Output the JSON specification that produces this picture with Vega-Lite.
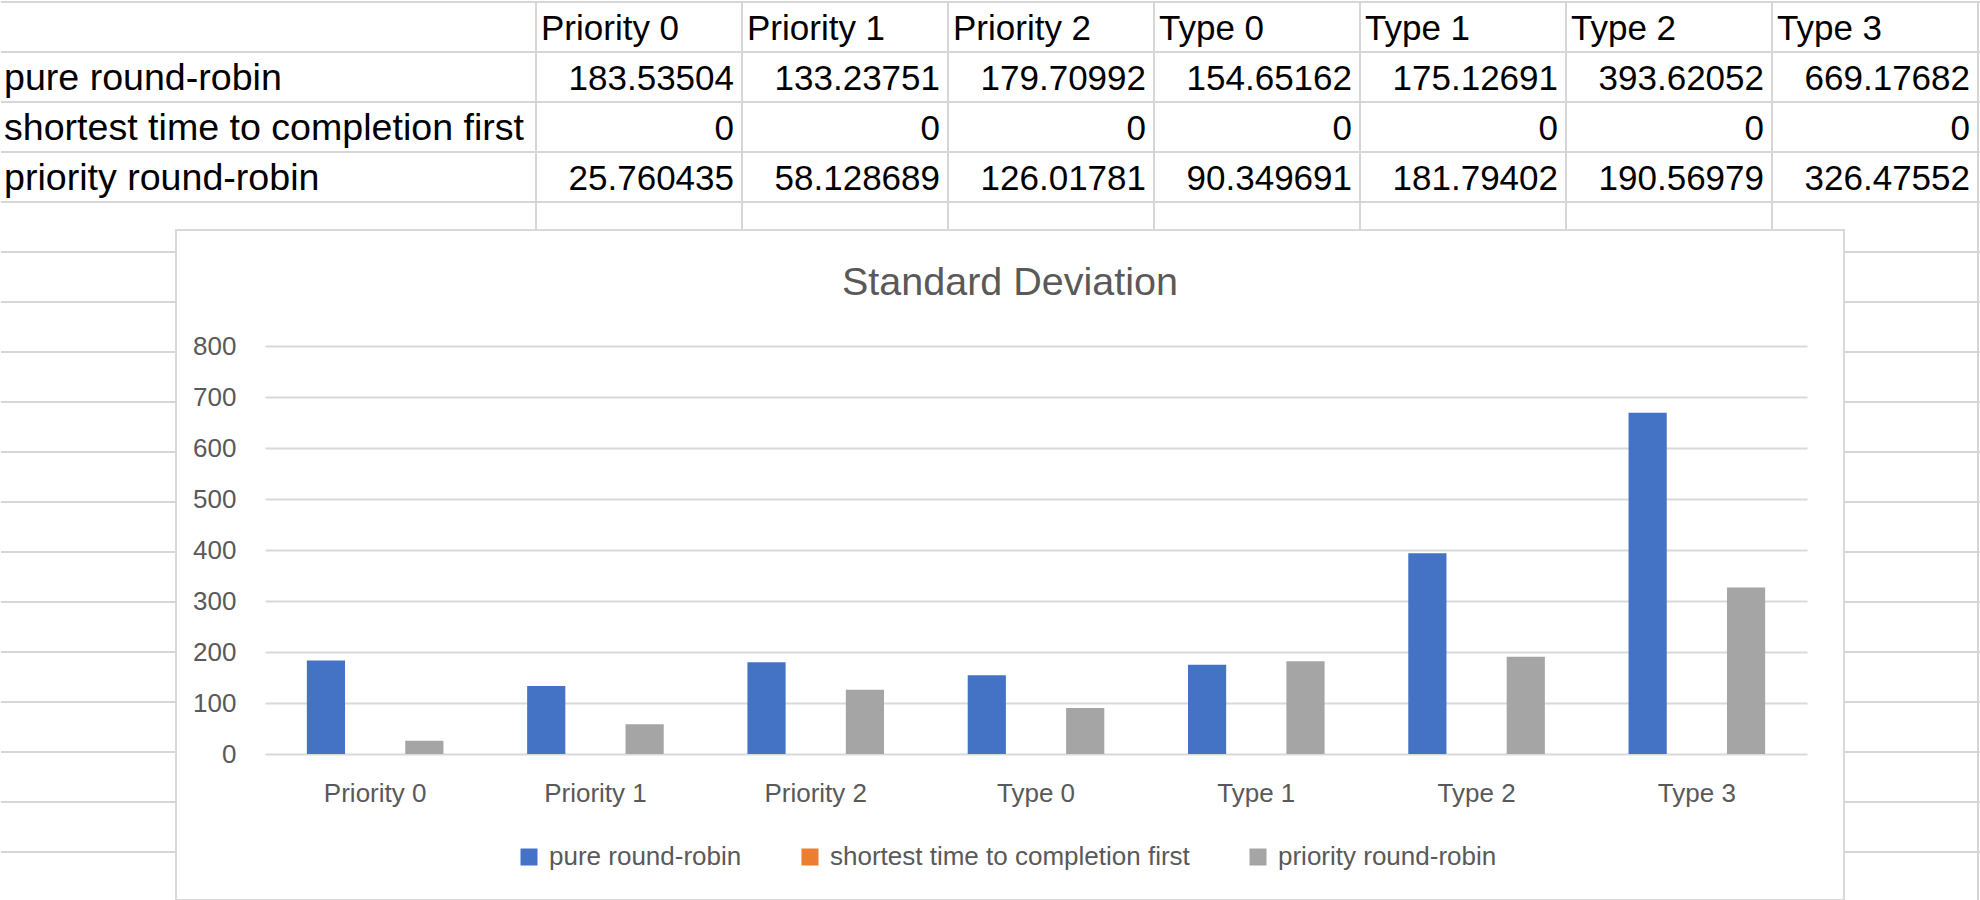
{
  "$schema": "https://vega.github.io/schema/vega-lite/v6.json",
  "padding": 0,
  "background": "white",
  "bounds": "flush",
  "spacing": 0,
  "config": {
    "view": {"stroke": null},
    "font": "Liberation Sans"
  },
  "datasets": {
    "stats": [
      {"series": "pure round-robin", "category": "Priority 0", "value": 183.53504},
      {"series": "pure round-robin", "category": "Priority 1", "value": 133.23751},
      {"series": "pure round-robin", "category": "Priority 2", "value": 179.70992},
      {"series": "pure round-robin", "category": "Type 0", "value": 154.65162},
      {"series": "pure round-robin", "category": "Type 1", "value": 175.12691},
      {"series": "pure round-robin", "category": "Type 2", "value": 393.62052},
      {"series": "pure round-robin", "category": "Type 3", "value": 669.17682},
      {"series": "shortest time to completion first", "category": "Priority 0", "value": 0},
      {"series": "shortest time to completion first", "category": "Priority 1", "value": 0},
      {"series": "shortest time to completion first", "category": "Priority 2", "value": 0},
      {"series": "shortest time to completion first", "category": "Type 0", "value": 0},
      {"series": "shortest time to completion first", "category": "Type 1", "value": 0},
      {"series": "shortest time to completion first", "category": "Type 2", "value": 0},
      {"series": "shortest time to completion first", "category": "Type 3", "value": 0},
      {"series": "priority round-robin", "category": "Priority 0", "value": 25.760435},
      {"series": "priority round-robin", "category": "Priority 1", "value": 58.128689},
      {"series": "priority round-robin", "category": "Priority 2", "value": 126.01781},
      {"series": "priority round-robin", "category": "Type 0", "value": 90.349691},
      {"series": "priority round-robin", "category": "Type 1", "value": 181.79402},
      {"series": "priority round-robin", "category": "Type 2", "value": 190.56979},
      {"series": "priority round-robin", "category": "Type 3", "value": 326.47552}
    ],
    "cats": [
      {"category": "Priority 0"}, {"category": "Priority 1"}, {"category": "Priority 2"},
      {"category": "Type 0"}, {"category": "Type 1"}, {"category": "Type 2"}, {"category": "Type 3"}
    ],
    "seriesNames": [
      {"series": "pure round-robin"},
      {"series": "shortest time to completion first"},
      {"series": "priority round-robin"}
    ],
    "topRows": [
      {"row": "header"},
      {"row": "pure round-robin"},
      {"row": "shortest time to completion first"},
      {"row": "priority round-robin"},
      {"row": "row5"}
    ],
    "lowerRows": [
      {"row": 6}, {"row": 7}, {"row": 8}, {"row": 9}, {"row": 10}, {"row": 11}, {"row": 12},
      {"row": 13}, {"row": 14}, {"row": 15}, {"row": 16}, {"row": 17}, {"row": 18}
    ]
  },
  "vconcat": [
    {
      "width": 1980,
      "height": 229,
      "resolve": {"scale": {"x": "independent"}},
      "layer": [
        {
          "data": {"name": "topRows"},
          "mark": {"type": "rule", "color": "#d6d6d6", "strokeWidth": 2},
          "encoding": {
            "y": {"field": "row", "type": "nominal", "bandPosition": 0,
              "scale": {"type": "band", "domain": ["header", "pure round-robin", "shortest time to completion first", "priority round-robin", "row5"], "range": [1, 251], "paddingInner": 0, "paddingOuter": 0},
              "axis": null}
          }
        },
        {
          "data": {"name": "cats"},
          "mark": {"type": "rule", "color": "#d6d6d6", "strokeWidth": 2},
          "encoding": {
            "x": {"field": "category", "type": "nominal", "bandPosition": 0,
              "scale": {"type": "band", "domain": ["Priority 0", "Priority 1", "Priority 2", "Type 0", "Type 1", "Type 2", "Type 3"], "range": [535, 1977], "paddingInner": 0, "paddingOuter": 0},
              "axis": null}
          }
        },
        {
          "data": {"name": "cats"},
          "mark": {"type": "rule", "color": "#d6d6d6", "strokeWidth": 2},
          "encoding": {
            "x": {"field": "category", "type": "nominal", "bandPosition": 1,
              "scale": {"type": "band", "domain": ["Priority 0", "Priority 1", "Priority 2", "Type 0", "Type 1", "Type 2", "Type 3"], "range": [535, 1977], "paddingInner": 0, "paddingOuter": 0},
              "axis": null}
          }
        },
        {
          "data": {"name": "cats"},
          "mark": {"type": "text", "align": "left", "baseline": "alphabetic", "dx": 5, "dy": 38, "fontSize": 35, "color": "#000000"},
          "encoding": {
            "x": {"field": "category", "type": "nominal", "bandPosition": 0,
              "scale": {"type": "band", "domain": ["Priority 0", "Priority 1", "Priority 2", "Type 0", "Type 1", "Type 2", "Type 3"], "range": [535, 1977], "paddingInner": 0, "paddingOuter": 0},
              "axis": null},
            "y": {"datum": "header", "type": "nominal", "bandPosition": 0},
            "text": {"field": "category", "type": "nominal"}
          }
        },
        {
          "data": {"name": "stats"},
          "mark": {"type": "text", "align": "right", "baseline": "alphabetic", "dx": -8, "dy": 38, "fontSize": 35, "color": "#000000"},
          "encoding": {
            "x": {"field": "category", "type": "nominal", "bandPosition": 1,
              "scale": {"type": "band", "domain": ["Priority 0", "Priority 1", "Priority 2", "Type 0", "Type 1", "Type 2", "Type 3"], "range": [535, 1977], "paddingInner": 0, "paddingOuter": 0},
              "axis": null},
            "y": {"field": "series", "type": "nominal", "bandPosition": 0},
            "text": {"field": "value", "type": "nominal"}
          }
        },
        {
          "data": {"name": "seriesNames"},
          "mark": {"type": "text", "align": "left", "baseline": "alphabetic", "dx": 3, "dy": 38, "fontSize": 37.6, "color": "#000000"},
          "encoding": {
            "y": {"field": "series", "type": "nominal", "bandPosition": 0},
            "x": {"datum": "A", "type": "nominal", "bandPosition": 0,
              "scale": {"type": "band", "domain": ["A"], "range": [0, 535], "paddingInner": 0, "paddingOuter": 0},
              "axis": null},
            "text": {"field": "series", "type": "nominal"}
          }
        }
      ]
    },
    {
      "hconcat": [
        {
          "width": 175,
          "height": 670,
          "data": {"name": "lowerRows"},
          "mark": {"type": "rule", "color": "#d6d6d6", "strokeWidth": 2},
          "encoding": {
            "y": {"field": "row", "type": "quantitative",
              "scale": {"domain": [6, 18], "range": [22, 622], "zero": false, "nice": false},
              "axis": null}
          }
        },
        {
          "width": 1668,
          "height": 670,
          "view": {"stroke": "#d9d9d9", "strokeWidth": 2, "fill": "white"},
          "title": {"text": "Standard Deviation", "fontSize": 39.5, "fontWeight": "normal", "color": "#595959", "offset": -104, "baseline": "alphabetic", "anchor": "middle", "frame": "group"},
          "data": {"name": "stats"},
          "mark": {"type": "bar"},
          "encoding": {
            "x": {"field": "category", "type": "nominal", "sort": null,
              "scale": {"domain": ["Priority 0", "Priority 1", "Priority 2", "Type 0", "Type 1", "Type 2", "Type 3"], "range": [89, 1631], "paddingInner": 0.38, "paddingOuter": 0.19},
              "axis": {"orient": "bottom", "offset": -146, "title": null, "labelAngle": 0, "labelFontSize": 26, "labelColor": "#595959", "labelPadding": 47, "labelBaseline": "alphabetic", "ticks": false, "tickSize": 0, "domain": false, "grid": false}},
            "xOffset": {"field": "series", "type": "nominal",
              "scale": {"domain": ["pure round-robin", "shortest time to completion first", "priority round-robin"], "paddingInner": 0.224, "paddingOuter": 0}},
            "y": {"field": "value", "type": "quantitative",
              "scale": {"domain": [0, 800], "range": [524, 116], "nice": false},
              "axis": {"orient": "left", "offset": -90, "title": null, "values": [0, 100, 200, 300, 400, 500, 600, 700, 800], "labelFontSize": 26, "labelColor": "#595959", "labelPadding": 30, "ticks": false, "tickSize": 0, "domain": false, "grid": true, "gridColor": "#d9d9d9", "gridWidth": 2}},
            "color": {"field": "series", "type": "nominal",
              "scale": {"domain": ["pure round-robin", "shortest time to completion first", "priority round-robin"], "range": ["#4472C4", "#ED7D31", "#A5A5A5"]},
              "legend": {"orient": "none", "legendX": 515, "legendY": 843, "direction": "horizontal", "title": null, "labelFontSize": 26, "labelColor": "#595959", "labelLimit": 1000, "symbolType": "square", "symbolSize": 289, "symbolStrokeWidth": 0, "symbolOpacity": 1, "labelOffset": 7, "columnPadding": 55, "padding": 0}}
          }
        },
        {
          "width": 137,
          "height": 670,
          "layer": [
            {
              "data": {"name": "lowerRows"},
              "mark": {"type": "rule", "color": "#d6d6d6", "strokeWidth": 2},
              "encoding": {
                "y": {"field": "row", "type": "quantitative",
                  "scale": {"domain": [6, 18], "range": [22, 622], "zero": false, "nice": false},
                  "axis": null}
              }
            },
            {
              "data": {"values": [{"column": "I"}]},
              "mark": {"type": "rule", "color": "#d6d6d6", "strokeWidth": 2},
              "encoding": {
                "x": {"field": "column", "type": "nominal", "bandPosition": 0,
                  "scale": {"type": "band", "domain": ["H", "I"], "range": [-72, 340], "paddingInner": 0, "paddingOuter": 0},
                  "axis": null}
              }
            }
          ]
        }
      ],
      "spacing": 0,
      "bounds": "flush"
    }
  ]
}
